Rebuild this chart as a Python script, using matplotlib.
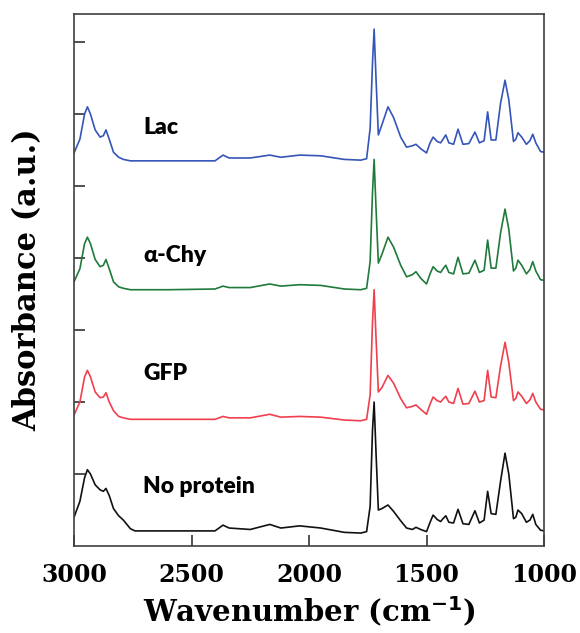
import matplotlib
matplotlib.use("Agg")
import matplotlib.pyplot as plt

# wavenumber grid (cm-1) shared by all spectra
wavenumber = [3000, 2975, 2955, 2943, 2930, 2910, 2889, 2875, 2864, 2850,
              2832, 2810, 2790, 2760, 2740, 2600, 2400, 2366, 2340, 2250,
              2167, 2120, 2040, 1950, 1850, 1780, 1755, 1740, 1730, 1723,
              1715, 1705, 1690, 1664, 1640, 1610, 1585, 1560, 1545, 1525,
              1500, 1485, 1472, 1455, 1440, 1430, 1418, 1405, 1385, 1366,
              1345, 1320, 1294, 1275, 1255, 1240, 1225, 1205, 1185, 1166,
              1150, 1130, 1120, 1111, 1095, 1075, 1060, 1048, 1035, 1015, 1000]

# absorbance (offset stacked, a.u.)
no_protein = [0.40, 0.62, 0.95, 1.06, 1.00, 0.85, 0.78, 0.76, 0.80, 0.70,
              0.52, 0.42, 0.36, 0.24, 0.21, 0.21, 0.21, 0.29, 0.25, 0.23,
              0.30, 0.25, 0.28, 0.25, 0.19, 0.18, 0.20, 0.55, 1.60, 2.00,
              1.30, 0.50, 0.52, 0.57, 0.48, 0.35, 0.25, 0.23, 0.26, 0.23,
              0.20, 0.33, 0.43, 0.37, 0.34, 0.38, 0.42, 0.33, 0.32, 0.51,
              0.31, 0.30, 0.49, 0.32, 0.36, 0.76, 0.45, 0.44, 0.90, 1.29,
              1.00, 0.38, 0.40, 0.50, 0.45, 0.33, 0.36, 0.44, 0.30, 0.22, 0.21]

gfp = [1.82, 2.00, 2.35, 2.44, 2.35, 2.14, 2.06, 2.07, 2.13, 2.00,
       1.88, 1.80, 1.78, 1.76, 1.76, 1.76, 1.76, 1.80, 1.78, 1.78,
       1.83, 1.79, 1.80, 1.79, 1.75, 1.74, 1.76, 2.10, 3.10, 3.56,
       2.90, 2.14, 2.20, 2.37, 2.26, 2.05, 1.92, 1.94, 1.96, 1.90,
       1.83, 1.97, 2.07, 2.02, 2.00, 2.04, 2.08, 2.00, 1.98, 2.19,
       1.97, 1.98, 2.15, 2.00, 2.02, 2.44, 2.07, 2.06, 2.50, 2.83,
       2.55, 2.02, 2.05, 2.14, 2.08, 1.98, 2.03, 2.12, 2.00, 1.90, 1.89]

a_chy = [3.67, 3.85, 4.20, 4.29, 4.20, 3.98, 3.88, 3.90, 3.98, 3.85,
         3.67, 3.60, 3.58, 3.56, 3.56, 3.56, 3.57, 3.61, 3.59, 3.59,
         3.64, 3.61, 3.63, 3.62, 3.57, 3.56, 3.58, 3.95, 4.90, 5.37,
         4.70, 3.93, 4.05, 4.29, 4.15, 3.90, 3.74, 3.77, 3.81, 3.72,
         3.64, 3.78, 3.88, 3.82, 3.80, 3.85, 3.90, 3.80, 3.78, 4.01,
         3.78, 3.79, 3.97, 3.80, 3.83, 4.25, 3.86, 3.86, 4.35, 4.68,
         4.40, 3.82, 3.86, 3.97, 3.90, 3.78, 3.84, 3.95, 3.82, 3.70, 3.69]

lac = [5.46, 5.65, 6.00, 6.10, 6.00, 5.78, 5.68, 5.70, 5.78, 5.65,
       5.47, 5.40, 5.37, 5.35, 5.35, 5.35, 5.35, 5.43, 5.39, 5.39,
       5.43, 5.40, 5.43, 5.42, 5.37, 5.36, 5.38, 5.80, 6.70, 7.18,
       6.50, 5.71, 5.85, 6.10, 5.95, 5.68, 5.54, 5.56, 5.58, 5.52,
       5.46, 5.60, 5.68, 5.62, 5.60, 5.65, 5.71, 5.60, 5.58, 5.79,
       5.58, 5.59, 5.75, 5.60, 5.63, 6.03, 5.64, 5.64, 6.15, 6.47,
       6.20, 5.62, 5.65, 5.74, 5.68, 5.58, 5.63, 5.72, 5.60, 5.48, 5.47]

labels = ["No protein", "GFP", "\u03b1-Chy", "Lac"]
label_y = [0.83, 2.40, 4.04, 5.82]
colors = ["#111111", "#f0404e", "#1f7a3c", "#3555b8"]
x_ticks = [3000, 2500, 2000, 1500, 1000]
y_ticks = [1, 2, 3, 4, 5, 6, 7]

fig = plt.figure(figsize=(5.8, 6.33), dpi=100)
ax = fig.add_axes([0.1276, 0.1374, 0.8104, 0.8405])

for series, c in zip([no_protein, gfp, a_chy, lac], colors):
    ax.plot(wavenumber, series, color=c, lw=1.2)

for lab, y in zip(labels, label_y):
    ax.text(2706, y, lab, fontsize=16.5, fontweight="heavy", family="Lato",
            va="center", ha="left")

ax.set_xlim(3000, 1000)
ax.set_ylim(0, 7.39)
ax.set_xticks(x_ticks)
ax.set_yticks(y_ticks)
ax.set_yticklabels([])
ax.tick_params(direction="in", length=8, width=1.2, colors="#333333")
ax.tick_params(axis="x", labelsize=17, pad=12, labelcolor="black")
for lbl in ax.get_xticklabels():
    lbl.set_fontweight("bold")
    lbl.set_family("DejaVu Serif")
for s in ax.spines.values():
    s.set_color("#404040")
    s.set_linewidth(1.2)

ax.set_xlabel("Wavenumber (cm$^{\\mathbf{-1}}$)", fontsize=21, fontweight="bold",
              family="DejaVu Serif", labelpad=6)
ax.set_ylabel("Absorbance (a.u.)", fontsize=22, fontweight="bold",
              family="DejaVu Serif")
ax.yaxis.set_label_coords(-0.066, 0.5)

fig.savefig("out.png", dpi=100)
